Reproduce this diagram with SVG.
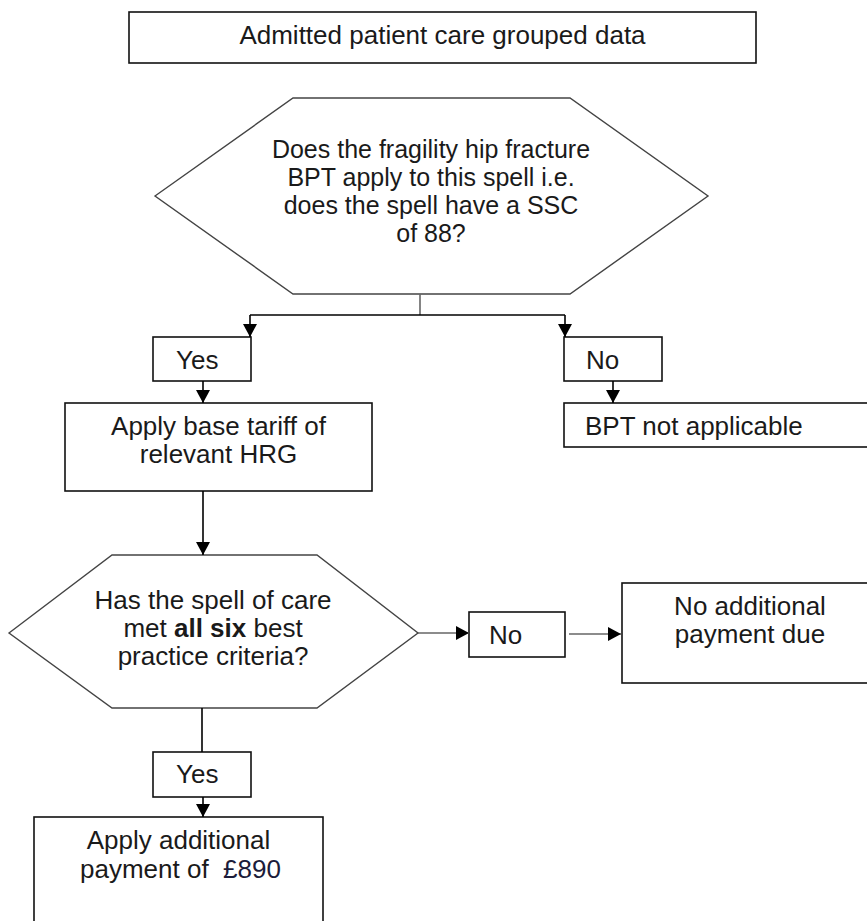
<svg xmlns="http://www.w3.org/2000/svg" width="867" height="921" viewBox="0 0 867 921">
<defs>
<marker id="ah" markerWidth="14" markerHeight="14" refX="13" refY="7" orient="auto" markerUnits="userSpaceOnUse"><path d="M0,0 L13,7 L0,14 z" fill="#000"/></marker>
</defs>
<style>
.box{fill:#fff;stroke:#111;stroke-width:1.6}
.hex{fill:#fff;stroke:#444;stroke-width:1.4}
.t{font-family:"Liberation Sans",Arial,Helvetica,sans-serif;font-size:26px;fill:#1a1a1a}
.s{font-size:25px}
.c{text-anchor:middle}
.ln{fill:none;stroke:#000;stroke-width:1.6}
.lg{fill:none;stroke:#666;stroke-width:1.6}
</style>
<rect width="867" height="921" fill="#fff"/>
<g id="start">
<rect class="box" x="129" y="12" width="627" height="51"/>
<text class="t c" x="442.5" y="44">Admitted patient care grouped data</text>
</g>
<g id="q1">
<polygon class="hex" points="155,196 293,98 570,98 708,196 570,294 293,294"/>
<text class="t s c" x="431" y="158">Does the fragility hip fracture</text>
<text class="t s c" x="431" y="186">BPT apply to this spell i.e.</text>
<text class="t s c" x="431" y="214">does the spell have a SSC</text>
<text class="t s c" x="431" y="242">of 88?</text>
</g>
<g id="yes1">
<rect class="box" x="153" y="337" width="98" height="44"/>
<text class="t" x="176" y="369">Yes</text>
</g>
<g id="no1">
<rect class="box" x="564" y="337" width="98" height="44"/>
<text class="t" x="586" y="369">No</text>
</g>
<g id="base">
<rect class="box" x="65" y="403" width="307" height="88"/>
<text class="t c" x="218.5" y="435">Apply base tariff of</text>
<text class="t c" x="218.5" y="463">relevant HRG</text>
</g>
<g id="na">
<rect class="box" x="564" y="403" width="320" height="44"/>
<text class="t" x="585" y="435">BPT not applicable</text>
</g>
<g id="q2">
<polygon class="hex" points="9,633 112,555 317,555 418,633 317,708 112,708"/>
<text class="t c" x="213" y="609">Has the spell of care</text>
<text class="t c" x="213" y="637">met <tspan font-weight="bold">all six</tspan> best</text>
<text class="t c" x="213" y="665">practice criteria?</text>
</g>
<g id="no2">
<rect class="box" x="469" y="612" width="96" height="45"/>
<text class="t" x="489" y="644">No</text>
</g>
<g id="noadd">
<rect class="box" x="622" y="583" width="260" height="100"/>
<text class="t c" x="750" y="615">No additional</text>
<text class="t c" x="750" y="643">payment due</text>
</g>
<g id="yes2">
<rect class="box" x="153" y="752" width="98" height="45"/>
<text class="t" x="176" y="783">Yes</text>
</g>
<g id="addpay">
<rect class="box" x="34" y="817" width="289" height="120"/>
<text class="t c" x="178.5" y="849">Apply additional</text>
<text class="t" x="80" y="878">payment of</text>
<text class="t" x="223" y="878" style="fill:#1c1c3a">£890</text>
</g>
<g id="connectors">
<path class="lg" d="M420,294 V315"/>
<path class="ln" d="M250,315 H565"/>
<path class="ln" d="M250,315 V337" marker-end="url(#ah)"/>
<path class="ln" d="M565,315 V337" marker-end="url(#ah)"/>
<path class="ln" d="M203,381 V403" marker-end="url(#ah)"/>
<path class="ln" d="M613,381 V403" marker-end="url(#ah)"/>
<path class="ln" d="M203,491 V555" marker-end="url(#ah)"/>
<path class="lg" d="M418,633 H469" marker-end="url(#ah)"/>
<path class="lg" d="M569,634 H621" marker-end="url(#ah)"/>
<path class="ln" d="M202,708 V752"/>
<path class="ln" d="M203,797 V817" marker-end="url(#ah)"/>
</g>
</svg>
